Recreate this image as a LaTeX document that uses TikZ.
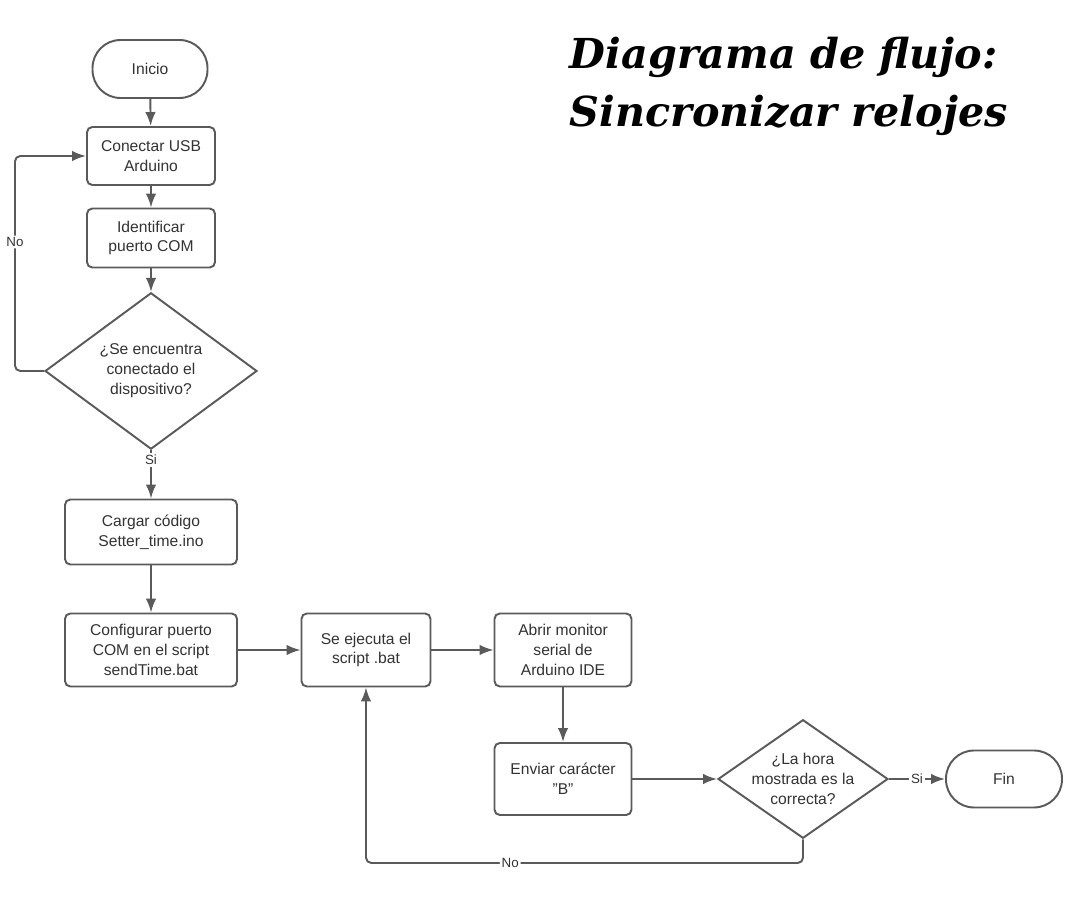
\documentclass[tikz,border=0pt]{standalone}
\usepackage{fontspec}
\setmainfont{Liberation Sans}
\newfontfamily\titlefont{DejaVu Serif}
\usetikzlibrary{shapes.geometric,arrows.meta}

\definecolor{linea}{HTML}{5A5A5A}
\definecolor{texto}{HTML}{333333}
\newcommand{\textonodo}{\fontsize{8.9}{11.3}\selectfont}
\newcommand{\textoetiqueta}{\fontsize{7.6}{9}\selectfont}

\tikzset{
  proceso/.style={draw=linea, rectangle, rounded corners=3pt, fill=white,
    align=center, text=texto, font=\textonodo, inner sep=2pt},
  terminal/.style={draw=linea, rectangle, rounded corners=0.56cm, fill=white,
    align=center, text=texto, font=\textonodo, minimum width=2.3cm, minimum height=1.16cm},
  decision/.style={draw=linea, diamond, fill=white, align=center, text=texto,
    font=\textonodo, inner sep=0pt},
  etiqueta/.style={fill=white, text=texto, font=\textoetiqueta, inner sep=1pt},
  flecha/.style={->, draw=linea},
}

\begin{document}
\begin{tikzpicture}[x=0.02cm,y=-0.02cm,>={Latex[length=2.8mm,width=2.1mm]},line width=1.1pt]
  \useasboundingbox (0,0) rectangle (1080,918);

  % titulo
  \node[anchor=west, align=left, inner sep=0pt,
    font=\titlefont\bfseries\itshape\fontsize{23.5}{33}\selectfont] (titulo)
    at (569,86) {Diagrama de flujo:\\Sincronizar relojes};

  % nodos del diagrama
  \node[terminal] (inicio) at (150,69) {Inicio};
  \node[proceso, minimum width=2.56cm, minimum height=1.16cm] (conectar) at (151,156) {Conectar USB\\Arduino};
  \node[proceso, minimum width=2.56cm, minimum height=1.18cm] (identificar) at (151,238) {Identificar\\puerto COM};
  \node[decision, minimum width=4.24cm, minimum height=3.12cm] (dispositivo) at (151,371) {¿Se encuentra\\conectado el\\dispositivo?};
  \node[proceso, minimum width=3.44cm, minimum height=1.3cm] (cargar) at (151,532) {Cargar código\\Setter\_time.ino};
  \node[proceso, minimum width=3.44cm, minimum height=1.46cm] (configurar) at (151,650) {Configurar puerto\\COM en el script\\sendTime.bat};
  \node[proceso, minimum width=2.58cm, minimum height=1.46cm] (ejecuta) at (366,650) {Se ejecuta el\\script .bat};
  \node[proceso, minimum width=2.74cm, minimum height=1.46cm] (abrir) at (563,650) {Abrir monitor\\serial de\\Arduino IDE};
  \node[proceso, minimum width=2.74cm, minimum height=1.44cm] (enviar) at (563,779) {Enviar carácter\\"B"};
  \node[decision, inner sep=-5pt, minimum width=3.4cm, minimum height=2.26cm] (hora) at (803,779) {¿La hora\\mostrada es la\\correcta?};
  \node[terminal, minimum width=2.32cm, minimum height=1.14cm] (fin) at (1004,779) {Fin};

  % esquinas de los retornos
  \coordinate (noA) at (15,371);
  \coordinate (noB) at (15,156);
  \coordinate (noC) at (803,863);
  \coordinate (noD) at (366,863);

  % conectores
  \draw[flecha] (inicio) -- (conectar);
  \draw[flecha] (conectar) -- (identificar);
  \draw[flecha] (identificar) -- (dispositivo);
  \draw[flecha, rounded corners=3pt] (dispositivo.west) -- (noA) -- node[etiqueta, pos=0.6] {No} (noB) -- (conectar.west);
  \draw[flecha] (dispositivo.south) -- node[etiqueta, pos=0.2] {Si} (cargar);
  \draw[flecha] (cargar) -- (configurar);
  \draw[flecha] (configurar) -- (ejecuta);
  \draw[flecha] (ejecuta) -- (abrir);
  \draw[flecha] (abrir) -- (enviar);
  \draw[flecha] (enviar) -- (hora);
  \draw[flecha] (hora) -- node[etiqueta] {Si} (fin);
  \draw[flecha, rounded corners=3pt] (hora.south) -- (noC) -- node[etiqueta, pos=0.67] {No} (noD) -- (ejecuta.south);
\end{tikzpicture}
\end{document}
